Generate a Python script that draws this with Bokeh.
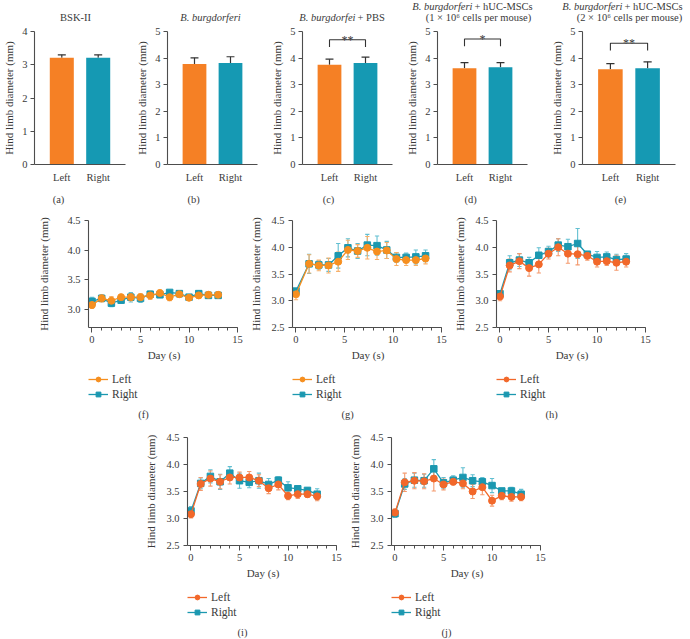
from bokeh.plotting import figure
from bokeh.models import (Range1d, FixedTicker, Label, Legend, LegendItem,
                          NumeralTickFormatter, ColumnDataSource, Spacer)
from bokeh.layouts import row, column
from bokeh.embed import file_html
from bokeh.resources import INLINE

# ---------------- data ----------------
bar_sides = ["Left", "Right"]
bar_left_mean = [3.21, 3.78, 3.75, 3.62, 3.58]
bar_left_err = [0.09, 0.23, 0.21, 0.21, 0.21]
bar_right_mean = [3.21, 3.82, 3.82, 3.66, 3.62]
bar_right_err = [0.09, 0.23, 0.22, 0.17, 0.24]
bar_sig = ["", "", "**", "*", "**"]
bar_ymax = [4, 5, 5, 5, 5]
bar_tags = ["(a)", "(b)", "(c)", "(d)", "(e)"]

days = [0, 1, 2, 3, 4, 5, 6, 7, 8, 9, 10, 11, 12, 13]
days_g = [0, 1.35, 2.35, 3.35, 4.35, 5.35, 6.35, 7.35, 8.35, 9.35, 10.35, 11.35, 12.35, 13.35]

f_left = [3.08, 3.19, 3.15, 3.21, 3.21, 3.21, 3.24, 3.28, 3.21, 3.26, 3.20, 3.24, 3.25, 3.25]
f_left_err = [0.06, 0.06, 0.07, 0.05, 0.06, 0.06, 0.07, 0.05, 0.06, 0.05, 0.03, 0.05, 0.05, 0.05]
f_right = [3.14, 3.19, 3.11, 3.16, 3.21, 3.19, 3.26, 3.25, 3.29, 3.27, 3.21, 3.27, 3.24, 3.24]
f_right_err = [0.07, 0.05, 0.06, 0.05, 0.08, 0.07, 0.05, 0.04, 0.03, 0.04, 0.03, 0.05, 0.05, 0.04]

g_left = [3.12, 3.69, 3.66, 3.66, 3.73, 3.95, 3.93, 3.99, 3.92, 3.94, 3.78, 3.76, 3.76, 3.79]
g_left_err = [0.10, 0.17, 0.10, 0.14, 0.18, 0.18, 0.12, 0.21, 0.15, 0.15, 0.12, 0.10, 0.10, 0.10]
g_right = [3.18, 3.69, 3.67, 3.67, 3.84, 3.99, 3.93, 4.04, 4.03, 3.95, 3.81, 3.81, 3.82, 3.84]
g_right_err = [0.05, 0.18, 0.08, 0.12, 0.23, 0.17, 0.14, 0.20, 0.18, 0.16, 0.09, 0.08, 0.13, 0.11]

h_left = [3.08, 3.66, 3.74, 3.61, 3.68, 3.88, 4.00, 3.88, 3.87, 3.84, 3.73, 3.74, 3.71, 3.73]
h_left_err = [0.08, 0.12, 0.14, 0.15, 0.16, 0.10, 0.16, 0.18, 0.20, 0.08, 0.10, 0.08, 0.14, 0.10]
h_right = [3.13, 3.71, 3.76, 3.71, 3.85, 3.92, 4.04, 4.01, 4.07, 3.87, 3.81, 3.82, 3.77, 3.78]
h_right_err = [0.05, 0.13, 0.12, 0.10, 0.14, 0.10, 0.12, 0.14, 0.28, 0.05, 0.11, 0.09, 0.10, 0.10]

i_left = [3.08, 3.64, 3.74, 3.68, 3.76, 3.76, 3.76, 3.70, 3.56, 3.63, 3.42, 3.45, 3.45, 3.41]
i_left_err = [0.07, 0.12, 0.14, 0.13, 0.12, 0.10, 0.11, 0.11, 0.10, 0.10, 0.07, 0.08, 0.06, 0.08]
i_right = [3.14, 3.65, 3.78, 3.68, 3.84, 3.70, 3.67, 3.70, 3.63, 3.71, 3.57, 3.55, 3.52, 3.45]
i_right_err = [0.08, 0.10, 0.12, 0.14, 0.12, 0.14, 0.10, 0.14, 0.11, 0.06, 0.11, 0.05, 0.05, 0.10]

j_left = [3.11, 3.67, 3.70, 3.69, 3.74, 3.63, 3.68, 3.65, 3.50, 3.58, 3.33, 3.42, 3.40, 3.40]
j_left_err = [0.07, 0.17, 0.15, 0.14, 0.23, 0.10, 0.06, 0.10, 0.13, 0.14, 0.10, 0.07, 0.08, 0.07]
j_right = [3.09, 3.64, 3.71, 3.70, 3.92, 3.66, 3.71, 3.76, 3.70, 3.68, 3.61, 3.51, 3.51, 3.45]
j_right_err = [0.07, 0.10, 0.13, 0.12, 0.17, 0.10, 0.08, 0.18, 0.11, 0.08, 0.13, 0.05, 0.07, 0.09]

y_ticks_line = [2.5, 3.0, 3.5, 4.0, 4.5]
x_ticks_line = [0, 5, 10, 15]
series_names = ["Left", "Right"]

# ---------------- styles ----------------
FONT = "Liberation Serif"
TXT = "#3a3a3a"
AXC = "#4d4d4d"
BAR_ORANGE = "#F58025"
BAR_TEAL = "#1599B3"
TEAL = "#1B98B0"
TEAL_ERR = "#62BFD1"
ORANGE_A = "#F68F1F"
ORANGE_A_ERR = "#F7B06A"
ORANGE_B = "#F2682A"
ORANGE_B_ERR = "#F49A6E"
W = 690
NAN = float("nan")


def base_axes(p):
    p.grid.visible = False
    p.outline_line_color = None
    p.background_fill_color = "white"
    p.border_fill_color = "white"
    for ax in (p.xaxis, p.yaxis):
        ax.axis_line_color = AXC
        ax.axis_line_width = 1.1
        ax.major_tick_line_color = AXC
        ax.minor_tick_line_color = AXC
        ax.major_label_text_font = FONT
        ax.major_label_text_color = TXT
        ax.major_label_text_font_size = "10.5px"
        ax.axis_label_text_font = FONT
        ax.axis_label_text_color = TXT
        ax.axis_label_text_font_size = "11px"
        ax.axis_label_text_font_style = "normal"
        ax.major_tick_in = 0
        ax.minor_tick_in = 0


def text_strip(height):
    """A blank strip whose frame is the whole canvas, measured in pixels from its top-left."""
    p = figure(width=W, height=height, x_range=Range1d(0, W), y_range=Range1d(height, 0),
               output_backend="svg", toolbar_location=None,
               x_axis_location=None, y_axis_location=None,
               min_border_left=0, min_border_right=0, min_border_top=0, min_border_bottom=0)
    p.grid.visible = False
    p.outline_line_color = None
    p.background_fill_color = "white"
    p.border_fill_color = "white"
    return p


def put(p, x, y, text, size="10.5px", align="center", style="normal"):
    p.add_layout(Label(x=x, y=y, text=text, text_font=FONT, text_font_size=size,
                       text_color=TXT, text_align=align, text_baseline="middle",
                       text_font_style=style))


# ---------------- top row: bar charts ----------------
bar_geom = [(133, 30), (135, 29), (135, 29), (145, 29), (142, 32)]   # (fig width, left border)
FRAME_W, FRAME_H = 95, 133
bracket_top = [None, None, 4.69, 4.72, 4.56]


def bar_panel(k):
    w, lb = bar_geom[k]
    p = figure(width=w, height=164, x_range=Range1d(-0.75, 1.75),
               y_range=Range1d(0, bar_ymax[k]), output_backend="svg",
               toolbar_location=None, min_border_left=lb,
               min_border_right=w - lb - FRAME_W, min_border_top=7,
               min_border_bottom=24)
    base_axes(p)
    means = [bar_left_mean[k], bar_right_mean[k]]
    errs = [bar_left_err[k], bar_right_err[k]]
    xs = [0, 1]
    src = ColumnDataSource(dict(
        x=xs, top=means, up=[m + e for m, e in zip(means, errs)],
        cap0=[x - 0.11 for x in xs], cap1=[x + 0.11 for x in xs],
        color=[BAR_ORANGE, BAR_TEAL]))
    p.segment(x0="x", y0="top", x1="x", y1="up", source=src,
              line_color="#333333", line_width=1.2)
    p.segment(x0="cap0", y0="up", x1="cap1", y1="up", source=src,
              line_color="#333333", line_width=1.2)
    p.vbar(x="x", top="top", width=0.66, bottom=0, source=src,
           fill_color="color", line_color=None)

    if bar_sig[k]:
        yb = bracket_top[k]
        p.line(x=[xs[0], xs[0], xs[1], xs[1]], y=[yb - 0.27, yb, yb, yb - 0.27],
               line_color="#333333", line_width=1.1)
        p.text(x=[(xs[0] + xs[1]) / 2], y=[yb], text=[bar_sig[k]],
               text_align="center", text_baseline="alphabetic",
               text_font={"value": FONT}, text_font_size="12px", text_color=TXT)

    p.xaxis.ticker = FixedTicker(ticks=xs)
    p.xaxis.major_label_overrides = {0: bar_sides[0], 1: bar_sides[1]}
    p.xaxis.major_tick_line_color = None
    p.xaxis.major_tick_out = 0
    p.xaxis.major_label_standoff = 7
    p.yaxis.ticker = FixedTicker(ticks=list(range(bar_ymax[k] + 1)))
    p.yaxis.major_tick_out = 4
    p.yaxis.major_label_standoff = 3
    p.yaxis.axis_label = "Hind limb diameter (mm)"
    p.yaxis.axis_label_standoff = 4
    return p


header = text_strip(24)
put(header, 75, 17, "BSK-II")
put(header, 210, 17, "B. burgdorferi", style="italic")
put(header, 355, 17, "B. burgdorfei", align="right", style="italic")
put(header, 357, 17, " + PBS", align="left")
put(header, 472, 5.5, "B. burgdorferi", align="right", style="italic")
put(header, 474, 5.5, " + hUC-MSCs", align="left")
put(header, 478, 17, "(1 × 10⁶ cells per mouse)")
put(header, 622, 5.5, "B. burgdorferi", align="right", style="italic")
put(header, 624, 5.5, " + hUC-MSCs", align="left")
put(header, 629, 17, "(2 × 10⁶ cells per mouse)")

bars = row(*[bar_panel(k) for k in range(5)])

tags_top = text_strip(22)
for tx, tag in zip([58, 193, 328, 470, 620], bar_tags):
    put(tags_top, tx, 11, tag)


# ---------------- line charts ----------------
def line_panel(xs, ly, le, ry, re_, ymin, orange, orange_err,
               left_border, top_b, frame_h, bottom_b, ylab_standoff):
    w = left_border + 151 + 8
    p = figure(width=w, height=top_b + frame_h + bottom_b,
               x_range=Range1d(-0.36, 15.2), y_range=Range1d(ymin, 4.5),
               output_backend="svg", toolbar_location=None,
               min_border_left=left_border, min_border_right=8,
               min_border_top=top_b, min_border_bottom=bottom_b)
    base_axes(p)
    cap = 0.22
    for ys, es, col, ecol in ((ry, re_, TEAL, TEAL_ERR), (ly, le, orange, orange_err)):
        src = ColumnDataSource(dict(
            x=xs, lo=[y - e for y, e in zip(ys, es)], hi=[y + e for y, e in zip(ys, es)],
            c0=[x - cap for x in xs], c1=[x + cap for x in xs]))
        p.segment(x0="x", y0="lo", x1="x", y1="hi", source=src, line_color=ecol, line_width=1.1)
        p.segment(x0="c0", y0="lo", x1="c1", y1="lo", source=src, line_color=ecol, line_width=1.1)
        p.segment(x0="c0", y0="hi", x1="c1", y1="hi", source=src, line_color=ecol, line_width=1.1)
    p.line(xs, ry, line_color=TEAL, line_width=1.3)
    p.scatter(xs, ry, marker="square", size=6.5, fill_color=TEAL, line_color=TEAL)
    p.line(xs, ly, line_color=orange, line_width=1.3)
    p.scatter(xs, ly, marker="circle", size=7, fill_color=orange, line_color=orange)

    p.xaxis.bounds = (-0.36, 15)
    p.xaxis.ticker = FixedTicker(ticks=x_ticks_line, minor_ticks=list(range(16)))
    p.xaxis.major_tick_out = 5
    p.xaxis.minor_tick_out = 3
    p.xaxis.major_label_standoff = 3
    p.xaxis.axis_label = "Day (s)"
    p.xaxis.axis_label_standoff = 3
    p.yaxis.ticker = FixedTicker(ticks=y_ticks_line)
    p.yaxis.formatter = NumeralTickFormatter(format="0.0")
    p.yaxis.major_tick_out = 4
    p.yaxis.major_label_standoff = 4
    p.yaxis.axis_label = "Hind limb diameter (mm)"
    p.yaxis.axis_label_standoff = ylab_standoff
    return p


def add_key(strip, x, bottom, orange):
    """Left/Right key; its swatches reuse the chart styles (NaN points draw nothing)."""
    ll = strip.line([NAN], [NAN], line_color=orange, line_width=1.3)
    lm = strip.scatter([NAN], [NAN], marker="circle", size=10, fill_color=orange, line_color=orange)
    rl = strip.line([NAN], [NAN], line_color=TEAL, line_width=1.3)
    rm = strip.scatter([NAN], [NAN], marker="square", size=9, fill_color=TEAL, line_color=TEAL)
    strip.add_layout(Legend(
        items=[LegendItem(label=series_names[0], renderers=[ll, lm]),
               LegendItem(label=series_names[1], renderers=[rl, rm])],
        location=(x, bottom), orientation="vertical", padding=0, margin=0,
        spacing=3, glyph_width=20, glyph_height=12, label_height=12,
        label_standoff=4, border_line_color=None, background_fill_alpha=0,
        label_text_font=FONT, label_text_font_size="11.5px", label_text_color=TXT))


pf = line_panel(days, f_left, f_left_err, f_right, f_right_err, 2.7, ORANGE_A, ORANGE_A_ERR,
                53, 10, 107, 38, 14)
pg = line_panel(days_g, g_left, g_left_err, g_right, g_right_err, 2.5, ORANGE_A, ORANGE_A_ERR,
                45, 10, 107, 38, 6)
ph = line_panel(days, h_left, h_left_err, h_right, h_right_err, 2.5, ORANGE_B, ORANGE_B_ERR,
                45, 10, 107, 38, 6)
mid_row = row(Spacer(width=35, height=155), pf, pg, ph)

cap_mid = text_strip(60)
for ax_x, orange, tag in zip([89, 293, 497], [ORANGE_A, ORANGE_A, ORANGE_B], ["(f)", "(g)", "(h)"]):
    add_key(cap_mid, ax_x - 1, 25, orange)
    put(cap_mid, ax_x + 54, 49, tag)

pi = line_panel(days, i_left, i_left_err, i_right, i_right_err, 2.5, ORANGE_B, ORANGE_B_ERR,
                49, 12, 108, 38, 6)
pj = line_panel(days, j_left, j_left_err, j_right, j_right_err, 2.5, ORANGE_B, ORANGE_B_ERR,
                45, 12, 108, 38, 6)
bot_row = row(Spacer(width=138, height=158), pi, pj)

cap_bot = text_strip(56)
for ax_x, tag in zip([188, 392], ["(i)", "(j)"]):
    add_key(cap_bot, ax_x - 1, 21, ORANGE_B)
    put(cap_bot, ax_x + 54, 49, tag)

layout = column(header, bars, tags_top, mid_row, cap_mid, bot_row, cap_bot)
open("out.html", "w").write(file_html(layout, INLINE))
